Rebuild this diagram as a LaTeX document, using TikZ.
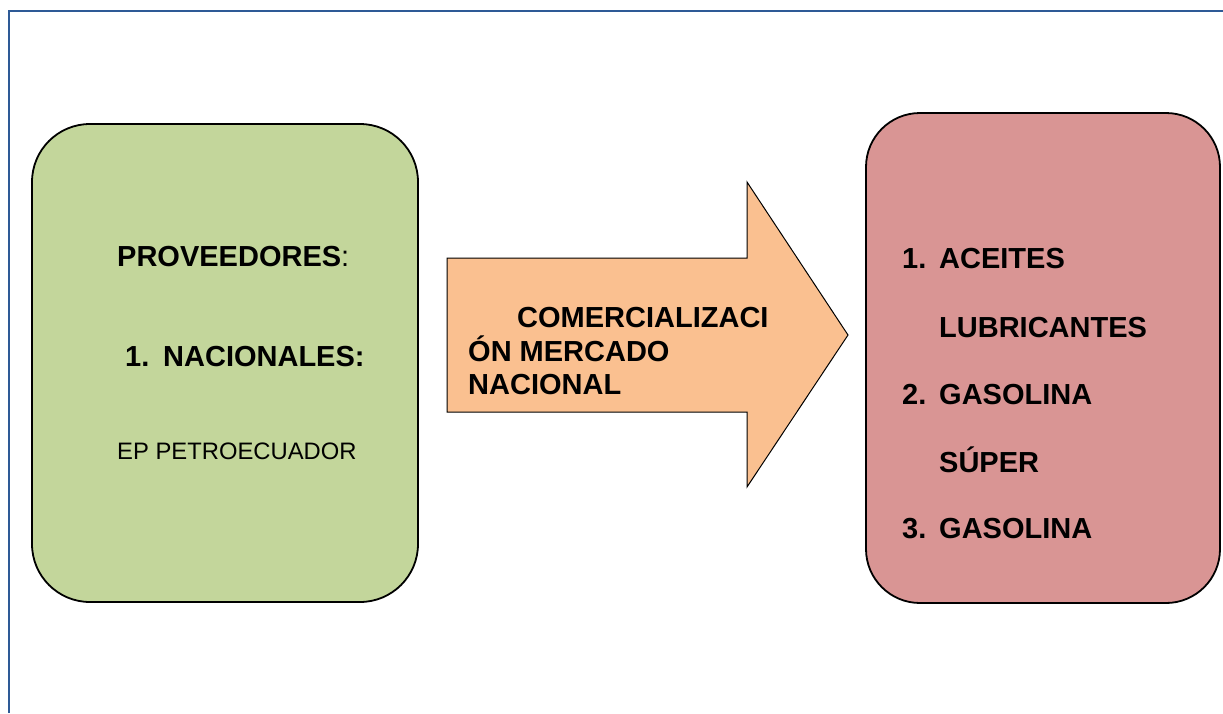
\documentclass[tikz,border=0pt]{standalone}
\usepackage{fontspec}
\setmainfont{Liberation Sans}
\definecolor{framecol}{HTML}{2E5A96}
\definecolor{greenfill}{HTML}{C3D69B}
\definecolor{pinkfill}{HTML}{D99594}
\definecolor{peachfill}{HTML}{FAC090}
\tikzset{
  frameline/.style={draw=framecol, line width=2.6pt},
  roundbox/.style={draw=black, line width=1.8pt},
  arrowshape/.style={draw=black, line width=1pt, fill=peachfill},
  boldtxt/.style={font=\fontsize{29}{34}\selectfont\bfseries, inner sep=0pt, anchor=base west},
  plaintxt/.style={font=\fontsize{23.8}{28}\selectfont, inner sep=0pt, anchor=base west}
}
\begin{document}
\begin{tikzpicture}[x=1pt,y=-1pt]
\useasboundingbox (0,0) rectangle (1223,713);
% outer frame
\draw[frameline] (9,713) -- (9,11) -- (1223,11);
% left box
\draw[roundbox, fill=greenfill, rounded corners=58pt] (32,124) rectangle (418,602);
% right box
\draw[roundbox, fill=pinkfill, rounded corners=54pt] (866,113) rectangle (1220,603);
% arrow
\coordinate (a1) at (447,258);
\coordinate (a2) at (747,258);
\coordinate (a3) at (747,182);
\coordinate (a4) at (848,335);
\coordinate (a5) at (747,487);
\coordinate (a6) at (747,412);
\coordinate (a7) at (447,412);
\draw[arrowshape] (a1) -- (a2) -- (a3) -- (a4) -- (a5) -- (a6) -- (a7) -- cycle;
% left texts
\node[boldtxt] (prov) at (117,266) {PROVEEDORES\mdseries:};
\node[boldtxt] (n1) at (125,366) {1.};
\node[boldtxt] (nac) at (163,366) {NACIONALES:};
\node[plaintxt] (ep) at (117,459) {EP PETROECUADOR};
% arrow texts
\node[boldtxt] (c1) at (517,327) {COMERCIALIZACI};
\node[boldtxt] (c2) at (468,361) {ÓN MERCADO};
\node[boldtxt] (c3) at (468,394) {NACIONAL};
% right texts
\node[boldtxt] (r1n) at (902,268) {1.};
\node[boldtxt] (r1) at (939,268) {ACEITES};
\node[boldtxt] (r1b) at (939,337) {LUBRICANTES};
\node[boldtxt] (r2n) at (902,404) {2.};
\node[boldtxt] (r2) at (939,404) {GASOLINA};
\node[boldtxt] (r2b) at (939,472) {SÚPER};
\node[boldtxt] (r3n) at (902,538) {3.};
\node[boldtxt] (r3) at (939,538) {GASOLINA};
\end{tikzpicture}
\end{document}
